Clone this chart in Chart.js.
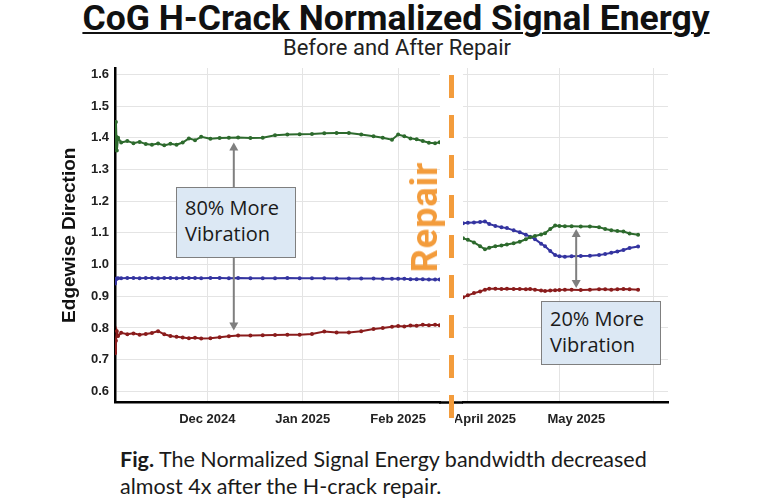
<!DOCTYPE html>
<html>
<head>
<meta charset="utf-8">
<script src="https://cdn.jsdelivr.net/npm/chart.js@4.4.1/dist/chart.umd.min.js"></script>
<style>
  body { margin: 0; background: #fff; }
  #page { position: relative; width: 770px; height: 500px; overflow: hidden; font-family: Roboto, sans-serif; }
  #title { position: absolute; left: 11px; top: -1px; width: 770px; text-align: center; font: 700 35.5px Roboto, sans-serif; color: #111; text-decoration: underline; text-decoration-thickness: 2px; text-underline-offset: 2px; line-height: 38px; }
  #subtitle { position: absolute; left: 12px; top: 35px; width: 770px; text-align: center; font: 400 22px Roboto, sans-serif; color: #222; line-height: 25px; }
  #leftWrap { position: absolute; left: 0; top: 60px; width: 463px; height: 380px; }
  #rightWrap { position: absolute; left: 455px; top: 60px; width: 230px; height: 380px; }
  .note { position: absolute; background: #dce8f4; border: 1px solid #7f7f7f; font: 400 20px "Open Sans", sans-serif; color: #1a1a1a; line-height: 26px; padding-left: 8px; box-sizing: border-box; padding-top: 7px; }
  #repairLine { position: absolute; left: 449px; top: 75px; width: 5px; height: 343px; background: repeating-linear-gradient(to bottom, #f39c3c 0 23px, transparent 23px 40px); }
  #repairText { position: absolute; left: 425px; top: 217px; transform: translate(-50%, -50%) rotate(-90deg); font: 700 36px Roboto, sans-serif; color: #f39c3c; letter-spacing: 1px; white-space: nowrap; }
  #caption { position: absolute; left: 120px; top: 446px; font: 400 21.5px Lato, sans-serif; color: #1a1a1a; line-height: 27px; }
</style>
</head>
<body>
<div id="page">
  <div id="title">CoG H-Crack Normalized Signal Energy</div>
  <div id="subtitle">Before and After Repair</div>
  <div id="leftWrap"><canvas id="leftChart"></canvas></div>
  <div id="rightWrap"><canvas id="rightChart"></canvas></div>
  <div id="repairLine"></div>
  <div id="repairText">Repair</div>
  <div class="note" style="left:176px; top:187px; width:120px; height:71px;">80% More<br>Vibration</div>
  <div class="note" style="left:541px; top:301px; width:120px; height:64px; padding-top:4px;">20% More<br>Vibration</div>
  <div id="caption"><b>Fig.</b> The Normalized Signal Energy bandwidth decreased<br>almost 4x after the H-crack repair.</div>
</div>
<script>
// before repair: days since 1 Nov 2024
const beforeDays = [0, 0.3, 0.6, 1, 2, 4, 6, 8, 10, 12, 14, 16, 18, 20, 22, 24, 26, 28, 31, 34, 37, 40, 44, 48, 52, 56, 60, 64, 68, 72, 76, 80, 84, 87, 90, 92, 94, 96, 98, 100, 102, 104, 105.5];
const beforeGreen = [1.37, 1.45, 1.36, 1.40, 1.385, 1.39, 1.383, 1.387, 1.38, 1.378, 1.382, 1.376, 1.381, 1.378, 1.385, 1.398, 1.392, 1.403, 1.397, 1.399, 1.400, 1.401, 1.399, 1.400, 1.408, 1.410, 1.411, 1.412, 1.414, 1.415, 1.415, 1.410, 1.405, 1.400, 1.394, 1.410, 1.405, 1.398, 1.395, 1.390, 1.384, 1.383, 1.386];
const beforeBlue = [0.94, 0.953, 0.956, 0.957, 0.957, 0.958, 0.958, 0.957, 0.958, 0.958, 0.957, 0.958, 0.958, 0.957, 0.958, 0.958, 0.958, 0.957, 0.958, 0.958, 0.957, 0.958, 0.957, 0.957, 0.957, 0.958, 0.957, 0.957, 0.957, 0.956, 0.956, 0.956, 0.956, 0.955, 0.955, 0.955, 0.955, 0.954, 0.954, 0.954, 0.953, 0.953, 0.953];
const beforeRed = [0.72, 0.76, 0.79, 0.775, 0.785, 0.78, 0.783, 0.779, 0.781, 0.784, 0.79, 0.78, 0.775, 0.772, 0.77, 0.768, 0.769, 0.767, 0.768, 0.771, 0.774, 0.776, 0.776, 0.777, 0.778, 0.779, 0.779, 0.781, 0.789, 0.786, 0.786, 0.790, 0.797, 0.800, 0.804, 0.806, 0.805, 0.808, 0.807, 0.810, 0.809, 0.810, 0.809];

// after repair: days since 1 Mar 2025
const afterDays = [29.4, 31, 33, 35, 36.6, 38, 40, 42, 43.8, 46, 48, 50, 51.4, 53, 55, 56.3, 58, 59.6, 61, 62.8, 65, 68, 71, 74, 76, 78, 80, 82, 84, 86.8];
const afterBlue = [1.130, 1.132, 1.133, 1.134, 1.136, 1.128, 1.122, 1.118, 1.115, 1.108, 1.102, 1.094, 1.088, 1.080, 1.066, 1.058, 1.043, 1.030, 1.026, 1.025, 1.026, 1.027, 1.028, 1.030, 1.033, 1.037, 1.041, 1.046, 1.052, 1.057];
const afterGreen = [1.083, 1.078, 1.070, 1.058, 1.048, 1.053, 1.058, 1.060, 1.063, 1.067, 1.072, 1.080, 1.086, 1.090, 1.095, 1.099, 1.112, 1.123, 1.122, 1.121, 1.121, 1.120, 1.120, 1.118, 1.112, 1.108, 1.106, 1.104, 1.098, 1.094];
const afterRed = [0.897, 0.903, 0.910, 0.915, 0.921, 0.924, 0.924, 0.923, 0.924, 0.923, 0.923, 0.922, 0.923, 0.921, 0.918, 0.917, 0.918, 0.919, 0.920, 0.921, 0.921, 0.920, 0.921, 0.922, 0.922, 0.921, 0.922, 0.923, 0.922, 0.921];

const beforeTickDays = [30, 61, 92];
const beforeTickLabels = ["Dec 2024", "Jan 2025", "Feb 2025"];
const afterTickDays = [31, 61, 92];
const afterTickLabels = ["April 2025", "May 2025", ""];

// arrows: [day, top value, bottom value]
const beforeArrow = [38.6, 1.385, 0.792];
const afterArrow = [66.5, 1.112, 0.926];

const GREEN = "#2d6a2d";
const BLUE = "#3434a0";
const RED = "#8a1c1c";
const GRID = "#e4e4e4";

function series(days, values, color) {
  return {
    data: days.map((d, i) => ({ x: d, y: values[i] })),
    borderColor: color,
    backgroundColor: color,
    borderWidth: 2,
    pointRadius: 1,
    pointHoverRadius: 0,
    tension: 0,
  };
}

function arrowPlugin(arrow) {
  return {
    id: "arrow",
    afterDatasetsDraw(chart) {
      const { ctx, scales } = chart;
      const x = scales.x.getPixelForValue(arrow[0]);
      const y1 = scales.y.getPixelForValue(arrow[1]);
      const y2 = scales.y.getPixelForValue(arrow[2]);
      ctx.save();
      ctx.strokeStyle = "#7f7f7f";
      ctx.fillStyle = "#7f7f7f";
      ctx.lineWidth = 2;
      ctx.beginPath();
      ctx.moveTo(x, y1 + 6);
      ctx.lineTo(x, y2 - 6);
      ctx.stroke();
      ctx.beginPath();
      ctx.moveTo(x, y1);
      ctx.lineTo(x - 4.5, y1 + 8);
      ctx.lineTo(x + 4.5, y1 + 8);
      ctx.closePath();
      ctx.fill();
      ctx.beginPath();
      ctx.moveTo(x, y2);
      ctx.lineTo(x - 4.5, y2 - 8);
      ctx.lineTo(x + 4.5, y2 - 8);
      ctx.closePath();
      ctx.fill();
      ctx.restore();
    },
  };
}

// carries the bottom axis line across the gap to the second panel
const axisBridge = {
  id: "axisBridge",
  afterDraw(chart) {
    const { ctx, chartArea, width } = chart;
    ctx.save();
    ctx.strokeStyle = "#000";
    ctx.lineWidth = 2.5;
    ctx.beginPath();
    ctx.moveTo(chartArea.right - 1, chartArea.bottom);
    ctx.lineTo(width, chartArea.bottom);
    ctx.stroke();
    ctx.restore();
  },
};

const tickFont = { family: "'Liberation Sans', Arial, sans-serif", size: 13, weight: "bold" };

function xScale(min, max, tickDays, tickLabels, labelOffset) {
  return {
    type: "linear",
    min: min,
    max: max,
    afterBuildTicks: (axis) => {
      axis.ticks = tickDays.map((v) => ({ value: v }));
    },
    afterFit: (axis) => {
      axis.height = 37.5;
      axis.paddingLeft = 0;
      axis.paddingRight = 0;
    },
    ticks: {
      callback: (v) => tickLabels[tickDays.indexOf(v)],
      font: tickFont,
      color: "#222",
      padding: 9,
      maxRotation: 0,
      labelOffset: labelOffset,
    },
    grid: { color: GRID, drawTicks: false },
    border: { color: "#000", width: 2.5 },
  };
}

function yScale(showLabels, axisWidth) {
  return {
    min: 0.565,
    max: 1.62,
    afterFit: (axis) => {
      axis.width = axisWidth;
      axis.paddingTop = 0;
      axis.paddingBottom = 0;
    },
    ticks: {
      stepSize: 0.1,
      includeBounds: false,
      display: showLabels,
      callback: (v) => v.toFixed(1),
      font: tickFont,
      color: "#222",
      padding: 6,
    },
    title: {
      display: showLabels,
      text: "Edgewise Direction",
      font: { family: "'Liberation Sans', Arial, sans-serif", size: 19, weight: "bold" },
      color: "#111",
      padding: 0,
    },
    grid: { color: GRID, drawTicks: false },
    border: { display: showLabels, color: "#000", width: 2.5 },
  };
}

const common = {
  responsive: true,
  maintainAspectRatio: false,
  animation: false,
  plugins: { legend: { display: false }, tooltip: { enabled: false } },
  events: [],
};

new Chart(document.getElementById("leftChart"), {
  type: "line",
  data: {
    datasets: [
      series(beforeDays, beforeGreen, GREEN),
      series(beforeDays, beforeBlue, BLUE),
      series(beforeDays, beforeRed, RED),
    ],
  },
  options: {
    ...common,
    layout: { padding: { left: 58, top: 8, right: 23, bottom: 0 } },
    scales: {
      x: xScale(0, 105.6, beforeTickDays, beforeTickLabels, 0),
      y: yScale(true, 57),
    },
  },
  plugins: [arrowPlugin(beforeArrow), axisBridge],
});

new Chart(document.getElementById("rightChart"), {
  type: "line",
  data: {
    datasets: [
      series(afterDays, afterGreen, GREEN),
      series(afterDays, afterBlue, BLUE),
      series(afterDays, afterRed, RED),
    ],
  },
  options: {
    ...common,
    layout: { padding: { left: 8, top: 8, right: 17, bottom: 0 } },
    scales: {
      x: xScale(29.4, 96.6, afterTickDays, afterTickLabels, 17),
      y: yScale(false, 0),
    },
  },
  plugins: [arrowPlugin(afterArrow)],
});
</script>
</body>
</html>
